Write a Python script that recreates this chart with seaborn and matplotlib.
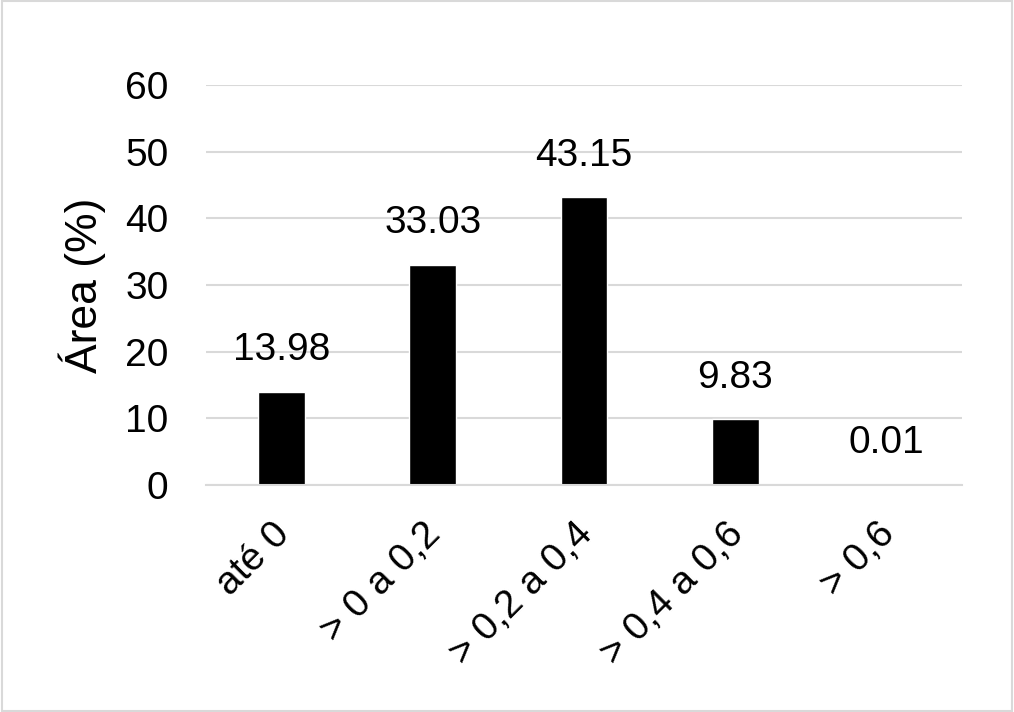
import matplotlib.pyplot as plt
import matplotlib.transforms as mtransforms
import seaborn as sns
from matplotlib.patches import Rectangle

categorias = ['até 0', '> 0 a 0,2', '> 0,2 a 0,4', '> 0,4 a 0,6', '> 0,6']
area = [13.98, 33.03, 43.15, 9.83, 0.01]
yticks = [0, 10, 20, 30, 40, 50, 60]

sns.set_style('white')
plt.rcParams['font.family'] = ['Liberation Sans', 'DejaVu Sans']
plt.rcParams['text.color'] = 'black'
plt.rcParams['axes.labelcolor'] = 'black'

fig = plt.figure(figsize=(10.14, 7.12), dpi=100)
ax = fig.add_axes([206 / 1014, 1 - 485 / 712, 756 / 1014, 400 / 712])

sns.barplot(x=categorias, y=area, color='black', width=0.31, ax=ax, saturation=1)

ax.set_ylim(0, 60)
ax.set_yticks(yticks)
ax.yaxis.grid(True, color='#d9d9d9', linewidth=1.5)
ax.set_axisbelow(True)
for s in ['top', 'right', 'left']:
    ax.spines[s].set_visible(False)
ax.spines['bottom'].set_color('#d9d9d9')
ax.spines['bottom'].set_linewidth(1.5)
ax.tick_params(axis='both', length=0, labelsize=28, colors='black')
ax.tick_params(axis='y', pad=27)
ax.tick_params(axis='x', pad=22)
# shift rotated labels a little to the left
offset = mtransforms.ScaledTranslation(-10 / 100, 0, fig.dpi_scale_trans)
for lbl in ax.get_xticklabels():
    lbl.set_rotation(45)
    lbl.set_ha('right')
    lbl.set_rotation_mode('anchor')
    lbl.set_transform(lbl.get_transform() + offset)

ax.bar_label(ax.containers[0], labels=[f'{v:.2f}' for v in area], fontsize=28,
             padding=17, color='black')
ax.set_ylabel('Área (%)', fontsize=32, labelpad=14, color='black')
ax.set_xlabel('')

fig.patches.append(Rectangle((0.002, 0.002), 0.996, 0.996, transform=fig.transFigure,
                             fill=False, edgecolor='#d9d9d9', linewidth=1.5))

fig.savefig('out.png', dpi=100)
